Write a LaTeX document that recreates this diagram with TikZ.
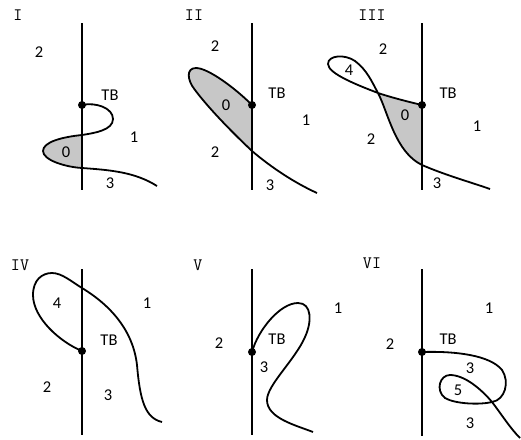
\documentclass[tikz,border=0pt]{standalone}
\usepackage{fontspec}
\setmainfont{Carlito}
\begin{document}
\begin{tikzpicture}[x=1pt,y=-1pt,
  lbl/.style={font=\fontsize{16.5}{16.5}\selectfont, inner sep=0pt},
  rom/.style={font=\ttfamily\fontsize{17.5}{17.5}\selectfont, inner sep=0pt},
  axis/.style={line width=1.8pt},
  crv/.style={line width=1.8pt},
  shade/.style={fill=black!22},
  dotc/.style={circle, fill=black, inner sep=0pt, minimum size=8pt}]
\useasboundingbox (0,0) rectangle (521,439);

% ---------- Panel I ----------
\fill[shade] (82,135) .. controls (62,137) and (43,142) .. (43,151) .. controls (43,160) and (65,167) .. (82,168) -- cycle;
\draw[axis] (82,23) -- (82,190);
\draw[crv] (82,105) .. controls (96,102) and (113,108) .. (113,119) .. controls (113,130) and (95,133) .. (82,135)
  .. controls (62,137) and (43,142) .. (43,151) .. controls (43,160) and (65,167) .. (82,168)
  .. controls (110,170) and (135,172) .. (157,186);
\node[dotc] (d1) at (82,105) {};
\node[rom] (r1) at (18,15) {I};
\node[lbl] (a1) at (39,52) {2};
\node[lbl] (b1) at (110,95) {TB};
\node[lbl] (c1) at (134,137) {1};
\node[lbl] (e1) at (66,152) {0};
\node[lbl] (f1) at (110,183) {3};

% ---------- Panel II ----------
\fill[shade] (252,105) .. controls (235,88) and (208,68) .. (196,68) .. controls (186,68) and (187,80) .. (195,90)
  .. controls (210,110) and (235,135) .. (252,151) -- cycle;
\draw[axis] (252,23) -- (252,190);
\draw[crv] (252,105) .. controls (235,88) and (208,68) .. (196,68) .. controls (186,68) and (187,80) .. (195,90)
  .. controls (210,110) and (235,135) .. (252,151) .. controls (272,168) and (295,183) .. (317,193);
\node[dotc] (d2) at (252,105) {};
\node[rom] (r2) at (194,15) {II};
\node[lbl] (a2) at (215,46) {2};
\node[lbl] (b2) at (277,93) {TB};
\node[lbl] (c2) at (306,120) {1};
\node[lbl] (e2) at (226,105) {0};
\node[lbl] (g2) at (215,152) {2};
\node[lbl] (f2) at (270,185) {3};

% ---------- Panel III ----------
\fill[shade] (422,105) .. controls (405,101) and (390,97) .. (378,93) .. controls (388,112) and (395,152) .. (422,165) -- cycle;
\draw[axis] (422,23) -- (422,190);
\draw[crv] (422,105) .. controls (405,101) and (390,97) .. (378,93) .. controls (360,86) and (328,74) .. (328,64)
  .. controls (328,55) and (345,54) .. (355,61) .. controls (367,70) and (372,82) .. (378,93)
  .. controls (388,112) and (395,152) .. (422,165) .. controls (445,175) and (470,182) .. (490,189);
\node[dotc] (d3) at (422,105) {};
\node[rom] (r3) at (372,15) {III};
\node[lbl] (a3) at (383,49) {2};
\node[lbl] (h3) at (349,70) {4};
\node[lbl] (b3) at (448,93) {TB};
\node[lbl] (e3) at (405,115) {0};
\node[lbl] (c3) at (477,126) {1};
\node[lbl] (g3) at (371,139) {2};
\node[lbl] (f3) at (437,183) {3};

% ---------- Panel IV ----------
\draw[axis] (82,269) -- (82,435);
\draw[crv] (82,351) .. controls (60,342) and (33,318) .. (33,295) .. controls (33,280) and (42,273) .. (52,273)
  .. controls (62,273) and (72,282) .. (82,288) .. controls (110,305) and (133,330) .. (137,365)
  .. controls (140,400) and (145,418) .. (162,422);
\node[dotc] (d4) at (82,351) {};
\node[rom] (r4) at (20,265) {IV};
\node[lbl] (h4) at (57,303) {4};
\node[lbl] (c4) at (147,303) {1};
\node[lbl] (b4) at (109,340) {TB};
\node[lbl] (a4) at (47,387) {2};
\node[lbl] (f4) at (108,395) {3};

% ---------- Panel V ----------
\draw[axis] (252,269) -- (252,435);
\draw[crv] (252,352) .. controls (258,330) and (280,303) .. (298,303) .. controls (312,303) and (312,322) .. (305,337)
  .. controls (295,360) and (267,385) .. (267,400) .. controls (267,418) and (295,425) .. (313,432);
\node[dotc] (d5) at (252,352) {};
\node[rom] (r5) at (198,265) {V};
\node[lbl] (c5) at (338,308) {1};
\node[lbl] (a5) at (219,343) {2};
\node[lbl] (b5) at (277,339) {TB};
\node[lbl] (f5) at (264,367) {3};

% ---------- Panel VI ----------
\draw[axis] (422,269) -- (422,436);
\draw[crv] (422,352) .. controls (455,351) and (490,355) .. (502,370) .. controls (510,382) and (505,400) .. (492,402)
  .. controls (480,405) and (455,404) .. (445,398) .. controls (435,390) and (440,375) .. (450,375)
  .. controls (465,375) and (482,390) .. (492,402) .. controls (502,415) and (510,428) .. (520,438);
\node[dotc] (d6) at (422,352) {};
\node[rom] (r6) at (372,263) {VI};
\node[lbl] (c6) at (489,308) {1};
\node[lbl] (a6) at (390,344) {2};
\node[lbl] (b6) at (448,339) {TB};
\node[lbl] (f6) at (470,368) {3};
\node[lbl] (i6) at (458,390) {5};
\node[lbl] (g6) at (470,423) {3};
\end{tikzpicture}
\end{document}
